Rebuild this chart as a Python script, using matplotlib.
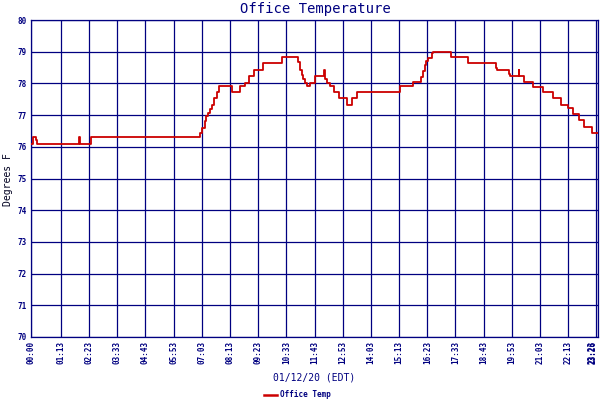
import matplotlib
matplotlib.use("Agg")
import matplotlib.pyplot as plt
import numpy as np

# Step-change times (minutes after midnight) and temperatures (deg F)
times = [0, 4, 12, 15, 119, 121, 149, 419, 424, 430, 434, 438, 443, 448, 454,
         461, 466, 497, 518, 530, 540, 553, 576, 623, 663, 667, 671, 675, 679,
         685, 693, 704, 727, 729, 733, 741, 751, 764, 784, 797, 808, 915, 948,
         967, 973, 977, 981, 985, 994, 996, 1043, 1085, 1153, 1155, 1186, 1188,
         1210, 1211, 1224, 1246, 1271, 1296, 1316, 1333, 1345, 1359, 1372, 1393]
temps = [76.1, 76.3, 76.2, 76.1, 76.3, 76.1, 76.3, 76.45, 76.6, 76.82, 76.97,
         77.06, 77.18, 77.31, 77.53, 77.72, 77.92, 77.72, 77.92, 78.02, 78.24,
         78.42, 78.63, 78.82, 78.69, 78.42, 78.26, 78.13, 78.02, 77.92, 78.02,
         78.23, 78.42, 78.13, 78.02, 77.92, 77.74, 77.53, 77.32, 77.53, 77.72,
         77.92, 78.03, 78.21, 78.4, 78.58, 78.7, 78.81, 78.95, 79.0, 78.82,
         78.63, 78.5, 78.41, 78.3, 78.22, 78.42, 78.22, 78.03, 77.9, 77.72,
         77.53, 77.31, 77.21, 77.03, 76.85, 76.62, 76.43]
end_time = 1406

tick_labels = ["00:00", "01:13", "02:23", "03:33", "04:43", "05:53", "07:03",
               "08:13", "09:23", "10:33", "11:43", "12:53", "14:03", "15:13",
               "16:23", "17:33", "18:43", "19:53", "21:03", "22:13", "23:23",
               "23:26"]
y_ticks = [70, 71, 72, 73, 74, 75, 76, 77, 78, 79, 80]

NAVY = "#000080"
RED = "#cc0000"
MONO = "DejaVu Sans Mono"

def to_min(s):
    h, m = s.split(":")
    return int(h) * 60 + int(m)

tick_pos = [to_min(s) for s in tick_labels]

fig = plt.figure(figsize=(6, 4), dpi=100)
ax = fig.add_axes([31.3 / 600, 1 - 337 / 400, (597.7 - 31.3) / 600, (337 - 20) / 400])

x = list(times) + [end_time]
y = list(temps) + [temps[-1]]
ax.step(x, y, where="post", color=RED, lw=1.3, zorder=3)

ax.set_xlim(0, end_time)
ax.set_ylim(70, 80)
ax.set_xticks(tick_pos)
ax.set_xticklabels(tick_labels, rotation=90, family=MONO, fontsize=5.5,
                   fontweight="bold", color=NAVY)
lbls = ax.get_xticklabels()
lbls[-1].set_horizontalalignment("right")
lbls[-2].set_horizontalalignment("right")
ax.set_yticks(y_ticks)
ax.set_yticklabels([str(v) for v in y_ticks], family=MONO, fontsize=5.5,
                   fontweight="bold", color=NAVY)
ax.tick_params(length=0, pad=3)
ax.grid(True, color=NAVY, lw=0.9)
ax.set_axisbelow(True)
for s in ax.spines.values():
    s.set_color(NAVY)
    s.set_linewidth(0.9)

fig.text(315 / 600, 1 - 9 / 400, "Office Temperature", ha="center", va="center",
         family=MONO, fontsize=10, color=NAVY)
fig.text(314 / 600, 1 - 378 / 400, "01/12/20 (EDT)", ha="center", va="center",
         family=MONO, fontsize=7, color=NAVY)
fig.text(8 / 600, 1 - 180 / 400, "Degrees F", ha="center", va="center",
         rotation=90, family=MONO, fontsize=7, color="#000020")

# legend
fig.lines.append(plt.Line2D([264 / 600, 277 / 600], [1 - 394.5 / 400] * 2,
                            color=RED, lw=1.8, transform=fig.transFigure))
fig.text(280 / 600, 1 - 394.5 / 400, "Office Temp", ha="left", va="center",
         family=MONO, fontsize=5.5, fontweight="bold", color=NAVY)

fig.savefig("out.png", dpi=100)
